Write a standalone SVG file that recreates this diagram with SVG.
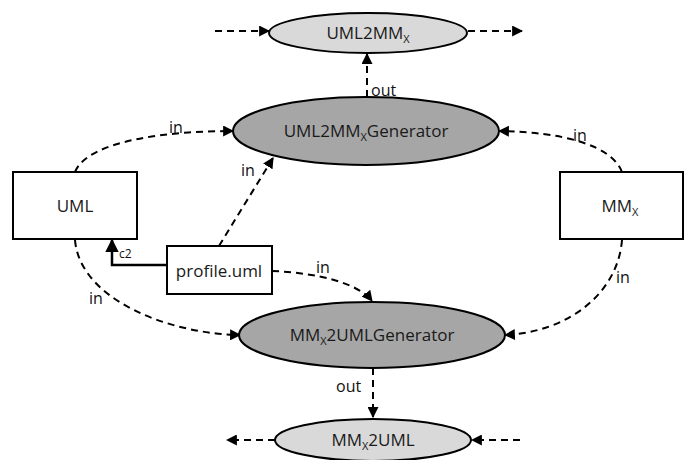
<svg xmlns="http://www.w3.org/2000/svg" width="699" height="460" viewBox="0 0 699 460">
<defs>
<style>
.t{font-family:"Open Sans","Liberation Sans",sans-serif;font-size:17px;fill:#1a1a1a;text-anchor:middle}
.l{font-family:"Open Sans","Liberation Sans",sans-serif;font-size:16px;fill:#111}
.s{font-size:11px}
.box{fill:#fff;stroke:#000;stroke-width:2}
.dark{fill:#a6a6a6;stroke:#000;stroke-width:2}
.light{fill:#d9d9d9;stroke:#000;stroke-width:2}
.d{fill:none;stroke:#000;stroke-width:2;stroke-dasharray:7,5;marker-end:url(#a)}
.c{fill:none;stroke:#000;stroke-width:2.5;marker-end:url(#a)}
</style>
<marker id="a" viewBox="0 0 10 10" refX="9" refY="5" markerWidth="5.5" markerHeight="5.5" orient="auto" markerUnits="strokeWidth">
<path d="M0,0 L10,5 L0,10 z" fill="#000"/>
</marker>
</defs>
<rect width="699" height="460" fill="#fff"/>
<g id="connectors">
<path class="d" d="M215,31 L269,31"/>
<path class="d" d="M468,31 L522,31"/>
<path class="d" d="M367,97 L367,54"/>
<path class="d" d="M75,172 C88,140 170,131 233,131"/>
<path class="d" d="M219,246 L273,158"/>
<path class="d" d="M622,172 C612,146 565,132 499,131"/>
<path class="d" d="M622,240 C618,292 570,332 505,335"/>
<path class="d" d="M75,240 C80,300 170,334 240,335"/>
<path class="d" d="M272,271 C318,273 358,283 372,301"/>
<path class="d" d="M373,368 L373,417"/>
<path class="d" d="M275,440 L227,440"/>
<path class="d" d="M520,440 L472,440"/>
<path class="c" d="M167,265 L112,265 L112,240"/>
<text class="l" x="371" y="96">out</text>
<text class="l" x="336" y="392">out</text>
<text class="l" x="169" y="133">in</text>
<text class="l" x="241" y="176">in</text>
<text class="l" x="573" y="141">in</text>
<text class="l" x="616" y="283">in</text>
<text class="l" x="89" y="304">in</text>
<text class="l" x="316" y="273">in</text>
<text class="l" x="119" y="258" style="font-size:12px">c2</text>
</g>
<g id="UML2MMX">
<ellipse class="light" cx="368" cy="33" rx="99" ry="20"/>
<text class="t" x="368" y="39">UML2MM<tspan class="s" dy="4">X</tspan></text>
</g>
<g id="UML2MMXGenerator">
<ellipse class="dark" cx="366" cy="131" rx="133" ry="34"/>
<text class="t" x="366" y="137">UML2MM<tspan class="s" dy="4">X</tspan><tspan dy="-4">Generator</tspan></text>
</g>
<g id="UML">
<rect class="box" x="13" y="172" width="124" height="67"/>
<text class="t" x="75" y="212">UML</text>
</g>
<g id="MMX">
<rect class="box" x="560" y="172" width="123" height="67"/>
<text class="t" x="620" y="212">MM<tspan class="s" dy="4">X</tspan></text>
</g>
<g id="profile">
<rect class="box" x="167" y="246" width="105" height="48"/>
<text class="t" x="219" y="277">profile.uml</text>
</g>
<g id="MMX2UMLGenerator">
<ellipse class="dark" cx="372" cy="335" rx="133" ry="33"/>
<text class="t" x="372" y="341">MM<tspan class="s" dy="4">X</tspan><tspan dy="-4">2UMLGenerator</tspan></text>
</g>
<g id="MMX2UML">
<ellipse class="light" cx="373" cy="440" rx="98" ry="21"/>
<text class="t" x="373" y="446">MM<tspan class="s" dy="4">X</tspan><tspan dy="-4">2UML</tspan></text>
</g>
</svg>
